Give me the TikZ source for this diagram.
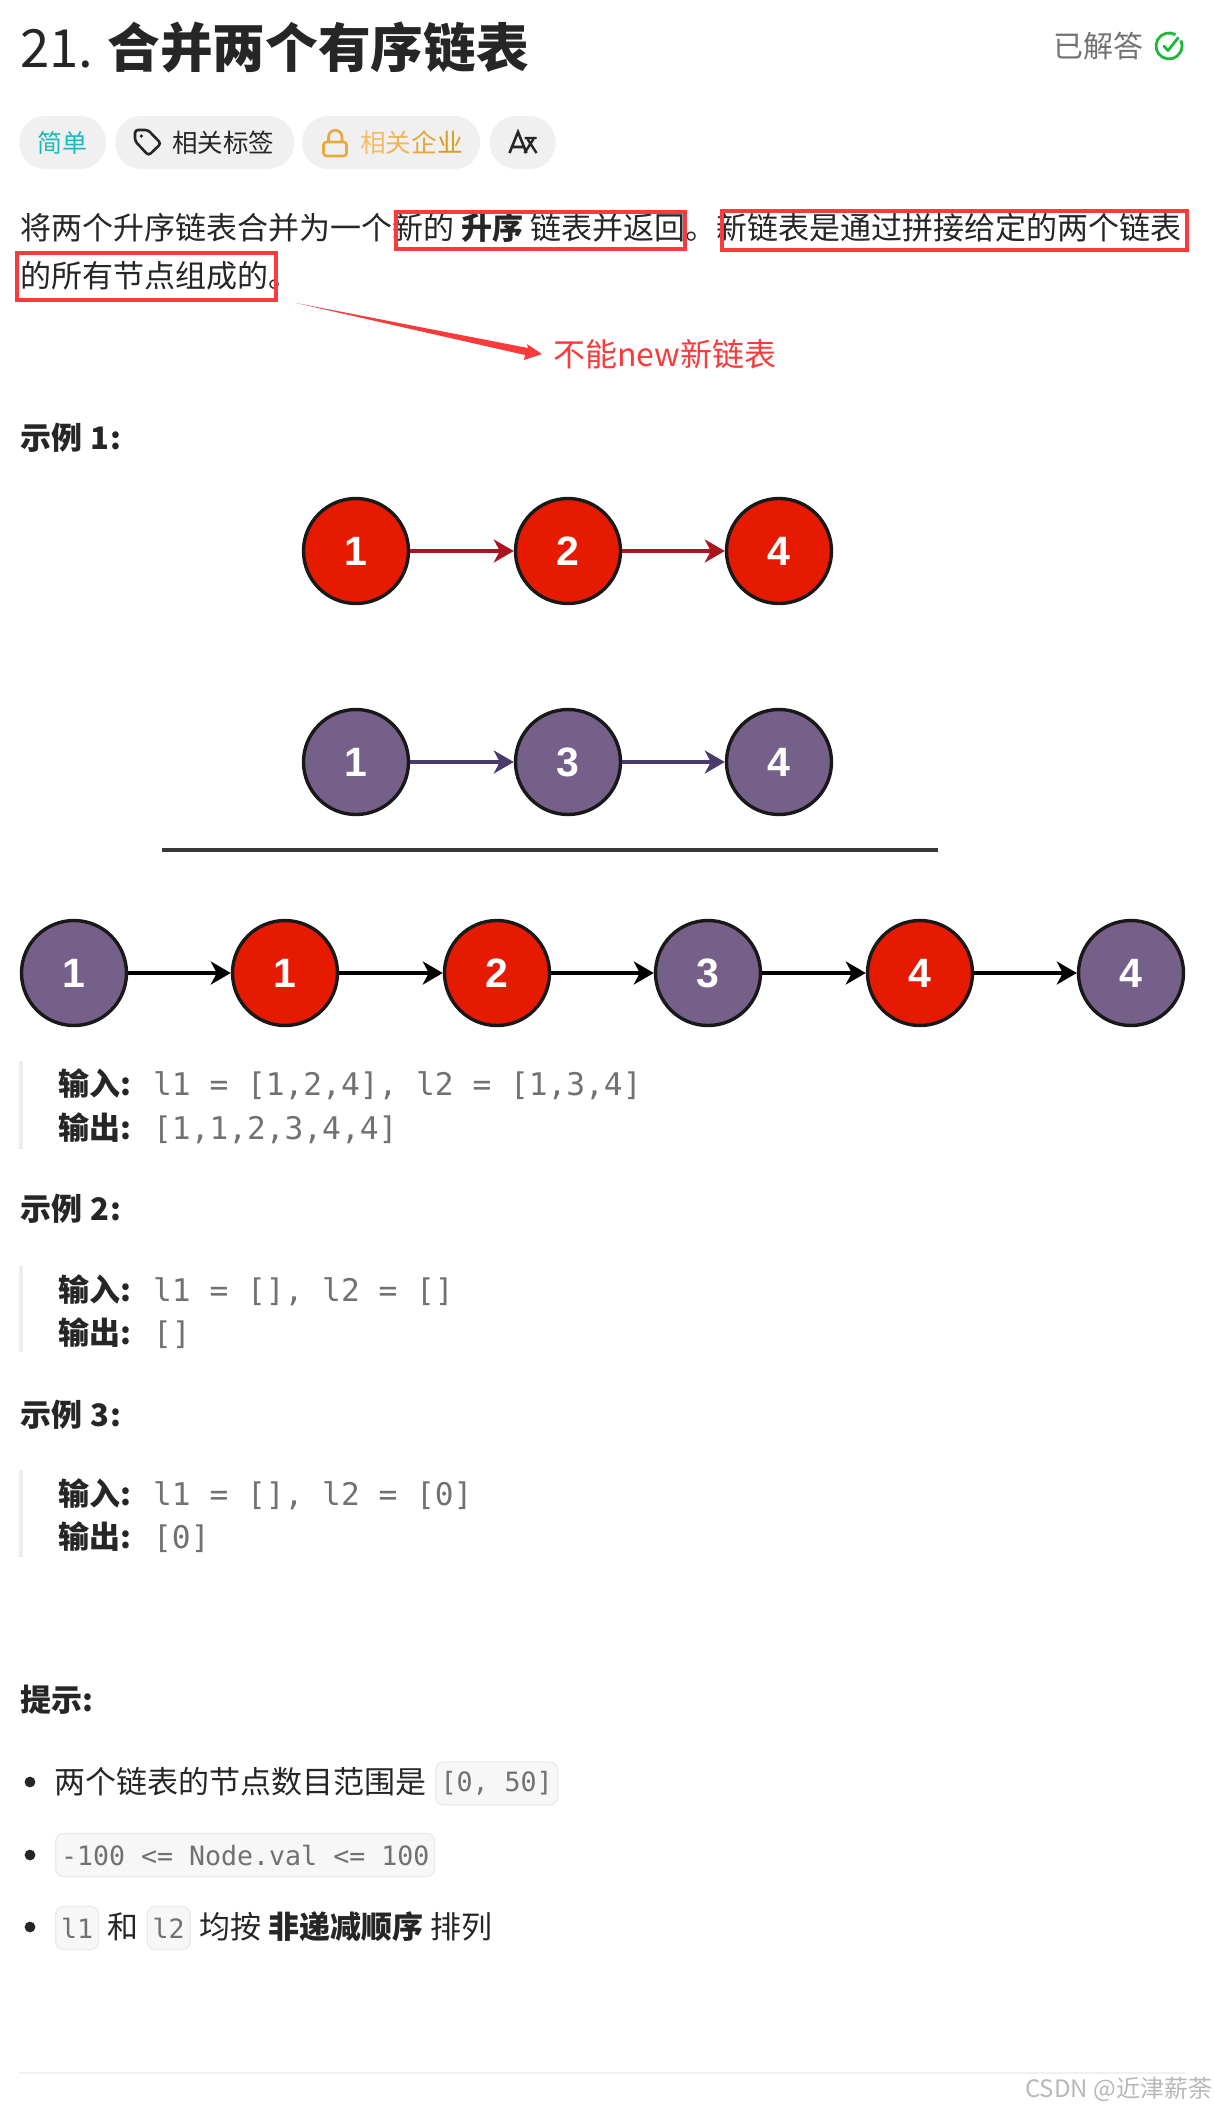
\documentclass[tikz,border=0pt]{standalone}
\usepackage{fontspec}
\setmainfont{Noto Sans CJK SC}
\setmonofont{DejaVu Sans Mono}
\newfontfamily\numfont{Liberation Sans}
\usepackage{tikz}
\usetikzlibrary{calc,positioning,arrows.meta}
\definecolor{annred}{HTML}{FB3B3B}
\definecolor{nodered}{HTML}{E61A00}
\definecolor{nodepurple}{HTML}{75608A}
\definecolor{arrowred}{HTML}{AC1420}
\definecolor{arrowpurple}{HTML}{4A3B6B}
\definecolor{pillgray}{HTML}{F0F0F0}
\definecolor{inkdark}{HTML}{262626}
\definecolor{codegray}{HTML}{717171}
\definecolor{okgreen}{HTML}{1CB83A}
\definecolor{lockorange}{HTML}{E8A93C}
\definecolor{easyteal}{HTML}{1CB8BE}
\newcommand{\fsz}[1]{\fontsize{#1}{#1}\selectfont}
\begin{document}
\begin{tikzpicture}[x=1pt,y=-1pt,
txt/.style={anchor=west, inner sep=0pt, text=inkdark, font=\fsz{31}},
head/.style={txt, font=\fsz{31}\bfseries},
codeline/.style={txt, text=codegray, font=\fsz{31.2}\ttfamily},
chip/.style={anchor=west, draw=black!8, fill=black!3, rounded corners=8pt, inner sep=0pt, minimum height=43pt, text=codegray, font=\fsz{26.6}\ttfamily, line width=1.4pt},
pill/.style={anchor=west, fill=pillgray, rounded corners=26pt, inner sep=0pt, minimum height=53pt, font=\fsz{25}, text=inkdark},
redbox/.style={draw=annred, line width=3.2pt},
quotebar/.style={draw=black!7, line width=4pt},
lnk/.style={-{Stealth[length=20pt,width=23pt,inset=6pt]}, line width=3.4pt}]
\tikzstyle{vtx}=[circle, draw=black!90, line width=3.4pt, minimum size=105pt, inner sep=0pt, text=white, font=\fsz{41}\numfont\bfseries]
\useasboundingbox (0,0) rectangle (1215,2107);

% title row
\node[txt, font=\fsz{52.7}] (title) at (20,47) {21.\hspace{14pt}\textbf{合并两个有序链表}};
\node[txt, text=black!55, font=\fsz{30}] (solved) at (1053,46) {已解答};
\coordinate (okc) at (1169,46);
\draw[okgreen, line width=2.8pt] ($(okc)+(6.5,-11.3)$) arc[start angle=-60, end angle=-385, radius=13];
\draw[okgreen, line width=2.8pt, line cap=round, line join=round] ($(okc)+(-5,0)$) -- ($(okc)+(-1,4.5)$) -- ($(okc)+(9,-8)$);

% pills
\node[pill, minimum width=87pt, text=easyteal] (easy) at (19,142.5) {简单};
\node[pill, minimum width=179pt] (tags) at (115,142.5) {};
\node[txt, font=\fsz{25.5}] (tagstxt) at (172,142.5) {相关标签};
\draw[inkdark, line width=2.6pt, rounded corners=3pt] (135,130) -- (148,130) -- (161,143.5) -- (148.5,155.5) -- (135,141) -- cycle;
\fill[inkdark] (141.3,136) circle (1.8);
\node[pill, minimum width=178pt] (corp) at (302,142.5) {};
\node[txt, font=\fsz{25.7}] (corptxt) at (360,142.5) {\textcolor[HTML]{F3BD6A}{相}\textcolor[HTML]{EEB55A}{关}\textcolor[HTML]{E6A63C}{企}\textcolor[HTML]{DC9A22}{业}};
\draw[lockorange, line width=2.6pt, rounded corners=3pt] (323.5,142) rectangle (346.5,156);
\draw[lockorange, line width=2.6pt] (328.5,142) -- (328.5,137) arc[start angle=180, end angle=360, radius=6.75] -- (342,142);
\node[pill, minimum width=66pt] (lang) at (489.5,142.5) {};
\draw[inkdark, line width=2.6pt] (509.5,153) -- (518,132) -- (526.5,153) (512.5,147) -- (523.5,147);
\draw[inkdark, line width=2.4pt] (524.5,138) -- (536.5,138) (527.5,139) -- (536.5,153) (533.5,139) -- (524.5,153);

% statement
\node[txt] (line1) at (20,228) {将两个升序链表合并为一个新的 \textbf{升序} 链表并返回。新链表是通过拼接给定的两个链表};
\node[txt] (line2) at (20,276) {的所有节点组成的。};
\draw[redbox] (396,212) rectangle (685,249);
\draw[redbox] (722,211) rectangle (1187,250);
\draw[redbox] (17,253) rectangle (276,300);
\coordinate (tailp) at (296,303);
\coordinate (tipp) at (542,354);
\node[txt, text=annred, font=\fsz{32}] (newnote) at (553,354) {不能new新链表};
\fill[annred] (tailp) -- (528,348) -- (527,344) -- (tipp) -- (524,360) -- (525,355) -- cycle;

\node[head] (ex1) at (20,438) {示例\hspace{1pt} 1\hspace{1.5pt}:};

% two lists
\foreach \i/\t/\x in {1/1/356,2/2/568,3/4/779}{\node[vtx, fill=nodered] (a\i) at (\x,551) {\t};}
\foreach \i/\t/\x in {1/1/356,2/3/568,3/4/779}{\node[vtx, fill=nodepurple] (b\i) at (\x,762) {\t};}
\foreach \i/\j in {1/2,2/3}{
\draw[lnk, arrowred] (a\i) -- (a\j);
\draw[lnk, arrowpurple] (b\i) -- (b\j);
}
\coordinate (ruleL) at (162,850);
\coordinate (ruleR) at (938,850);
\draw[black!78, line width=3.6pt] (ruleL) -- (ruleR);

% merged list
\foreach \i/\t/\x/\c in {1/1/74/nodepurple,2/1/285/nodered,3/2/497/nodered,4/3/708/nodepurple,5/4/920/nodered,6/4/1131/nodepurple}{
\node[vtx, fill=\c] (m\i) at (\x,973) {\t};
}
\foreach \i/\j in {1/2,2/3,3/4,4/5,5/6}{\draw[lnk, black] (m\i) -- (m\j);}

% example 1 io
\coordinate (q1a) at (21,1061);
\coordinate (q1b) at (21,1149);
\draw[quotebar] (q1a) -- (q1b);
\node[head] (in1) at (58,1084) {输入:};
\node[codeline] (in1v) at (153,1086) {l1 = [1,2,4], l2 = [1,3,4]};
\node[head] (out1) at (58,1128) {输出:};
\node[codeline] (out1v) at (153,1130) {[1,1,2,3,4,4]};

% example 2
\node[head] (ex2) at (20,1209) {示例\hspace{1pt} 2\hspace{1.5pt}:};
\coordinate (q2a) at (21,1266);
\coordinate (q2b) at (21,1352);
\draw[quotebar] (q2a) -- (q2b);
\node[head] (in2) at (58,1290) {输入:};
\node[codeline] (in2v) at (153,1292) {l1 = [], l2 = []};
\node[head] (out2) at (58,1333) {输出:};
\node[codeline] (out2v) at (153,1335) {[]};

% example 3
\node[head] (ex3) at (20,1415) {示例\hspace{1pt} 3\hspace{1.5pt}:};
\coordinate (q3a) at (21,1470);
\coordinate (q3b) at (21,1557);
\draw[quotebar] (q3a) -- (q3b);
\node[head] (in3) at (58,1494) {输入:};
\node[codeline] (in3v) at (153,1496) {l1 = [], l2 = [0]};
\node[head] (out3) at (58,1537) {输出:};
\node[codeline] (out3v) at (153,1539) {[0]};

% hints
\node[head] (hint) at (20,1700) {提示:};
\foreach \i/\y in {1/1782,2/1855,3/1927}{\fill[inkdark] (30,\y) circle (5.4);}
\node[txt] (h1) at (54,1782) {两个链表的节点数目范围是};
\node[chip, minimum width=122pt] (h1c) at (435,1783.5) {[0, 50]};
\node[chip, minimum width=379pt] (h2c) at (55,1855) {-100 <= Node.val <= 100};
\node[chip, minimum width=43pt] (h3a) at (55,1928) {l1};
\node[txt] (h3b) at (107,1927) {和};
\node[chip, minimum width=43pt] (h3c) at (146.5,1928) {l2};
\node[txt] (h3d) at (199,1927) {均按 \textbf{非递减顺序} 排列};

% footer
\coordinate (footL) at (19,2073);
\coordinate (footR) at (1185,2073);
\draw[black!6, line width=1.6pt] (footL) -- (footR);
\node[txt, text=black!28, font=\fsz{24}] (wm) at (1025,2089) {CSDN @近津薪荼};
\end{tikzpicture}
\end{document}
